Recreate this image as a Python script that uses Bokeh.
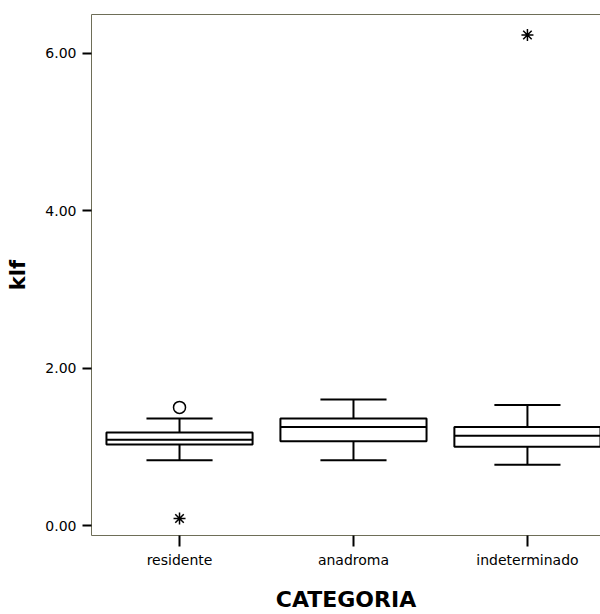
from bokeh.plotting import figure
from bokeh.models import FixedTicker, LinearAxis, Range1d, PrintfTickFormatter, ColumnDataSource
from bokeh.embed import file_html
from bokeh.resources import INLINE

# ---- data ----
categories = ["residente", "anadroma", "indeterminado"]
q1 = [1.03, 1.07, 1.00]
median = [1.09, 1.25, 1.14]
q3 = [1.18, 1.36, 1.25]
whisker_low = [0.83, 0.83, 0.77]
whisker_high = [1.36, 1.60, 1.53]
outlier_cat = ["residente"]
outlier_val = [1.50]
extreme_cat = ["residente", "indeterminado"]
extreme_val = [0.09, 6.23]
y_ticks = [0, 2, 4, 6]

FRAME = "#6e6e58"
FONT = "DejaVu Sans"

xpos = list(range(len(categories)))
idx = {c: i for i, c in enumerate(categories)}

p = figure(width=600, height=614, output_backend="svg", toolbar_location=None,
           x_range=Range1d(-0.506, 2.42), y_range=Range1d(-0.127, 6.49),
           x_axis_type=None, y_axis_type=None,
           min_border_left=91, min_border_right=0, min_border_top=14, min_border_bottom=79)
p.outline_line_color = None
p.xgrid.visible = False
p.ygrid.visible = False
p.background_fill_color = "white"
p.border_fill_color = "white"

# axes
xaxis = LinearAxis(ticker=FixedTicker(ticks=xpos),
                   major_label_overrides={i: c for i, c in enumerate(categories)})
xaxis.axis_label = "CATEGORIA"
yaxis = LinearAxis(ticker=FixedTicker(ticks=y_ticks), formatter=PrintfTickFormatter(format="%.2f"))
yaxis.axis_label = "klf"
topaxis = LinearAxis(ticker=FixedTicker(ticks=[]))
topaxis.major_label_text_font_size = "0px"
topaxis.major_tick_out = 0
topaxis.major_tick_in = 0
topaxis.minor_tick_out = 0
topaxis.axis_line_color = FRAME

for ax in (xaxis, yaxis):
    ax.axis_line_color = FRAME
    ax.axis_line_width = 1
    ax.major_tick_line_color = "black"
    ax.major_tick_line_width = 2
    ax.major_tick_in = 0
    ax.minor_tick_line_color = None
    ax.major_label_text_font = FONT
    ax.major_label_text_font_size = "14px"
    ax.major_label_text_color = "black"
    ax.axis_label_text_font = FONT
    ax.axis_label_text_font_style = "bold"
    ax.axis_label_text_color = "black"

xaxis.axis_label_text_font_size = "22px"
yaxis.axis_label_text_font_size = "21px"
xaxis.major_tick_out = 11
xaxis.major_label_standoff = 5
xaxis.axis_label_standoff = 16
yaxis.major_tick_out = 9
yaxis.major_label_standoff = 6
yaxis.axis_label_standoff = 12

p.add_layout(xaxis, "below")
p.add_layout(yaxis, "left")
p.add_layout(topaxis, "above")

box_w = 0.84
cap_w = 0.38
src = ColumnDataSource(dict(
    x=xpos, q1=q1, med=median, q3=q3, lo=whisker_low, hi=whisker_high,
    bl=[x - box_w / 2 for x in xpos], br=[x + box_w / 2 for x in xpos],
    cl=[x - cap_w / 2 for x in xpos], cr=[x + cap_w / 2 for x in xpos],
))

# whiskers
p.segment(x0="x", y0="q3", x1="x", y1="hi", source=src, line_color="black", line_width=2)
p.segment(x0="x", y0="q1", x1="x", y1="lo", source=src, line_color="black", line_width=2)
p.segment(x0="cl", y0="hi", x1="cr", y1="hi", source=src, line_color="black", line_width=2)
p.segment(x0="cl", y0="lo", x1="cr", y1="lo", source=src, line_color="black", line_width=2)
# boxes
p.quad(left="bl", right="br", bottom="q1", top="q3", source=src,
       fill_color="white", line_color="black", line_width=2)
p.segment(x0="bl", y0="med", x1="br", y1="med", source=src, line_color="black", line_width=2)

# outliers
p.scatter([idx[c] for c in outlier_cat], outlier_val, marker="circle", size=12,
          fill_color=None, line_color="black", line_width=1.5)
p.scatter([idx[c] for c in extreme_cat], extreme_val, marker="asterisk", size=12,
          line_color="black", line_width=1.5)

open("out.html", "w").write(file_html(p, INLINE))
